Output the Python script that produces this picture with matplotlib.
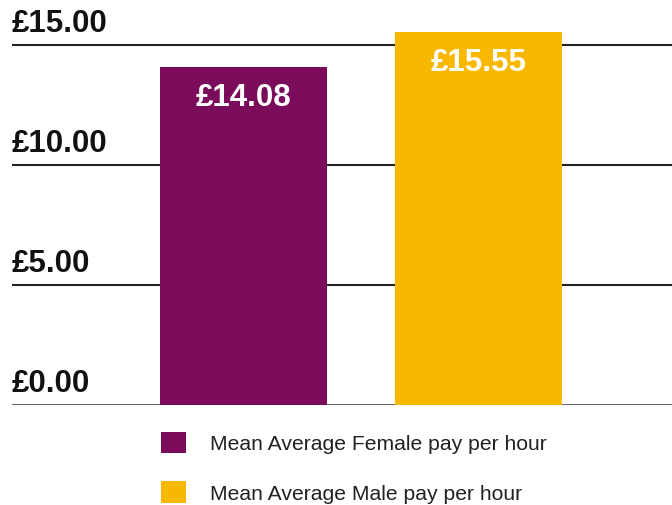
import matplotlib
matplotlib.use("Agg")
import matplotlib.pyplot as plt
from matplotlib.patches import Patch

categories = ["Mean Average Female pay per hour", "Mean Average Male pay per hour"]
values = [14.08, 15.55]
value_labels = ["£14.08", "£15.55"]
colors = ["#7A0C5B", "#F9B800"]
yticks = [0, 5, 10, 15]
ytick_labels = ["£0.00", "£5.00", "£10.00", "£15.00"]

plt.rcParams['font.family'] = ['Liberation Sans', 'DejaVu Sans']

fig = plt.figure(figsize=(6.72, 5.06), dpi=100)
ax = fig.add_axes([12/672, (506-406)/506, 660/672, 406/506])

x = list(range(len(values)))
bars = ax.bar(x, values, width=0.71, color=colors, zorder=3)

ax.set_xlim(-0.985, 1.823)
ax.set_ylim(0, 16.92)

for v, lab in zip(yticks, ytick_labels):
    lw = 2.0 if v == 0 else 1.5
    col = "#555555" if v == 0 else "#222222"
    ax.axhline(v, color=col, lw=lw, zorder=1)
    ax.annotate(lab, xy=(0, v), xycoords=ax.get_yaxis_transform(),
                xytext=(0, 10), textcoords="offset points",
                ha="left", va="baseline", fontsize=22.5, fontweight="bold",
                color="#111111", annotation_clip=False)

for xi, v, lab in zip(x, values, value_labels):
    ax.annotate(lab, xy=(xi, v), xytext=(0, -11), textcoords="offset points",
                ha="center", va="top", fontsize=22.5, fontweight="bold",
                color="white", zorder=4)

for s in ax.spines.values():
    s.set_visible(False)
ax.set_xticks([])
ax.set_yticks([])

handles = [Patch(facecolor=c, edgecolor="none", label=l) for c, l in zip(colors, categories)]
leg = fig.legend(handles=handles, loc="upper left", bbox_to_anchor=(150/672, 1 - 422/506),
                 frameon=False, fontsize=15.2, handlelength=1.2, handleheight=1.2,
                 labelspacing=1.3, handletextpad=1.15, borderaxespad=0, borderpad=0.5)
for t in leg.get_texts():
    t.set_color("#222222")

fig.savefig("out.png", dpi=100)
